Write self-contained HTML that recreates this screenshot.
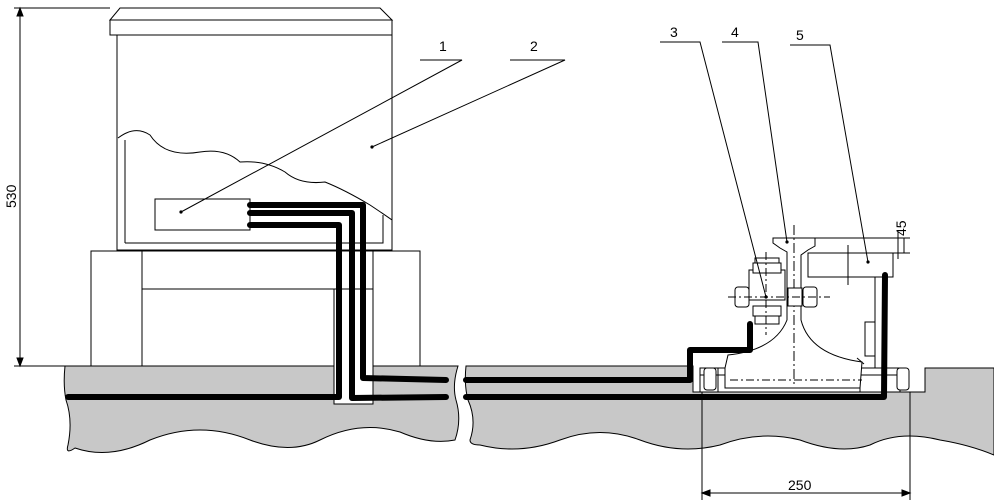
<!DOCTYPE html>
<html><head><style>body{margin:0;background:#fff}svg{display:block}text{font-family:"Liberation Sans",sans-serif;font-size:14px;fill:#000}</style></head><body>
<svg width="994" height="503" viewBox="0 0 994 503" xmlns="http://www.w3.org/2000/svg" fill="none" stroke="#000" stroke-width="1">
<!-- ground -->
<path d="M65,366 L458,366 Q452,385 456,400 Q462,420 455,440 Q430,445 400,432 Q360,420 320,440 Q290,455 250,440 Q200,420 150,440 Q110,460 75,448 Q65,455 68,445 Q73,420 66,400 Q63,385 65,366 Z" fill="#c8c8c8"/>
<path d="M466,366 L693,366 L693,392 L925,392 L925,368 L994,368 L994,455 Q970,445 940,440 Q900,430 870,445 Q840,455 800,440 Q760,430 720,445 Q680,455 640,440 Q600,425 560,440 Q520,455 480,445 Q470,445 470,440 Q477,420 468,400 Q464,385 466,366 Z" fill="#c8c8c8"/>
<!-- cabinet -->
<path d="M120,8 L380,8 L392,20 L110,20 Z" fill="#fff"/>
<rect x="110" y="20" width="282" height="15" fill="#fff"/>
<rect x="117" y="35" width="275" height="215" fill="#fff"/>
<path d="M125,243 L383,243 L383,215 M125,243 L125,140"/>
<path d="M118,138 Q135,125 150,135 Q165,158 200,152 Q225,148 240,162 Q265,160 285,172 Q300,185 325,182 Q345,190 370,205 Q385,215 392,220"/>
<rect x="155" y="199" width="95" height="31" fill="#fff"/>
<rect x="91" y="251" width="329" height="115" fill="#fff"/>
<path d="M142,251 L142,366 M373,251 L373,366 M142,289 L373,289"/>
<rect x="334" y="289" width="39" height="115" fill="#fff"/>
<!-- rail assembly -->
<rect x="700" y="368" width="200" height="24" fill="#fff"/>
<path d="M718,368 L718,392 M860,368 L860,392 M700,375 L900,375" />
<path d="M725,368 L728,355 Q775,350 787,320 L787,252 L780,248 L773,243 L773,238 L815,238 L815,246 L808,250 L801,255 L801,320 Q810,355 862,362 L860,388 L725,388 Z" fill="#fff"/>
<path d="M730,380 L862,380" stroke-dasharray="8,3,2,3"/>
<path d="M794,225 L794,385" stroke-dasharray="10,3,2,3"/>
<rect x="808" y="253" width="85" height="24" fill="#fff"/>
<path d="M815,238 L910,238 M893,253 L910,253 M848,245 L848,285"/>
<rect x="749" y="270" width="36" height="30" fill="#fff"/>
<rect x="755" y="258" width="24" height="12" fill="#fff"/>
<rect x="755" y="312" width="24" height="12" fill="#fff"/>
<rect x="753" y="263" width="28" height="10" fill="#fff"/>
<rect x="753" y="306" width="28" height="10" fill="#fff"/>
<rect x="735" y="287" width="14" height="20" rx="3" fill="#fff"/>
<rect x="803" y="287" width="14" height="20" rx="3" fill="#fff"/>
<rect x="788" y="288" width="14" height="18" fill="#fff"/>
<path d="M728,297 L830,297 M766,252 L766,335" stroke-dasharray="8,3,2,3"/>
<rect x="875" y="277" width="8" height="91" fill="#fff"/>
<rect x="865" y="322" width="10" height="34" fill="#fff"/>
<rect x="704" y="368" width="12" height="22" rx="3" fill="#fff"/>
<rect x="897" y="368" width="12" height="22" rx="3" fill="#fff"/>
<path d="M857,358 L864,364"/>
<!-- cables -->
<g stroke-width="6" stroke-linecap="round" stroke-linejoin="round">
<path d="M250,205 L363,205 L363,378 L446,380"/>
<path d="M250,213 L352,213 L352,398 L446,397"/>
<path d="M250,225 L339,225 L339,397 L68,397"/>
<path d="M466,380 L690,380 L690,350 L750,350 L750,324"/>
<path d="M466,397 L884,397 L885,275"/>
</g>
<!-- dims -->
<path d="M20,8 L20,366 M14,8 L110,8 M14,366 L65,366"/>
<path d="M702,392 L702,500 M910,392 L910,500 M702,493 L910,493 M904,238 L904,253 M898,232 L898,259"/>
<path d="M20,8 l-3,8 h6z M20,366 l-3,-8 h6z M702,493 l8,-3 v6z M910,493 l-8,-3 v6z" fill="#000"/>
<!-- leaders -->
<path d="M420,60 L462,60 L181,212 M510,60 L565,60 L372,147 M660,42 L700,42 L766,297 M722,42 L758,42 L787,242 M790,45 L830,45 L868,262"/>
<g fill="#000" stroke="none"><circle cx="181" cy="212" r="1.6"/><circle cx="372" cy="147" r="1.6"/><circle cx="766" cy="297" r="1.6"/><circle cx="787" cy="242" r="1.6"/><circle cx="868" cy="262" r="1.6"/></g>
<g stroke="none">
<text x="439" y="51">1</text><text x="530" y="51">2</text><text x="670" y="37">3</text><text x="731" y="37">4</text><text x="796" y="40">5</text>
<text x="788" y="490">250</text>
<text transform="translate(16,208) rotate(-90)">530</text>
<text transform="translate(906,236) rotate(-90)">45</text>
</g>
</svg>
</body></html>
